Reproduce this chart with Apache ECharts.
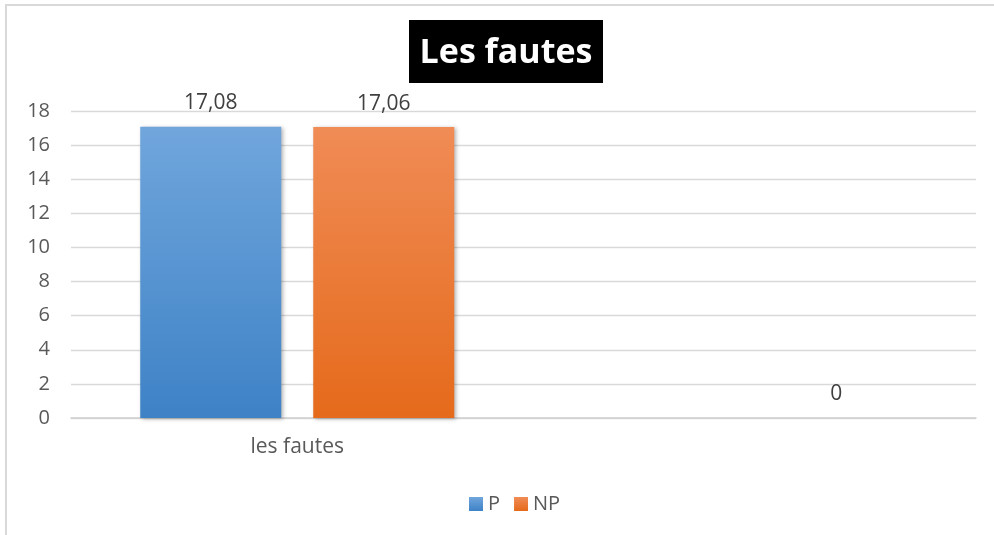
<!DOCTYPE html>
<html>
<head>
<meta charset="utf-8">
<script src="https://cdn.jsdelivr.net/npm/echarts@6/dist/echarts.min.js"></script>
<style>html,body{margin:0;padding:0;background:#fff;}#c{width:994px;height:535px;}</style>
</head>
<body>
<div id="c"></div>
<script>
var categories = ["les fautes", ""];
var seriesNames = ["P", "NP"];
var valuesP = [17.08, null];
var valuesNP = [17.06, 0];
var yTicks = [0, 2, 4, 6, 8, 10, 12, 14, 16, 18];

var chart = echarts.init(document.getElementById('c'), null, {renderer: 'canvas'});
function grad(top, bottom) {
  return new echarts.graphic.LinearGradient(0, 0, 0, 1, [{offset: 0, color: top}, {offset: 1, color: bottom}]);
}
var labelStyle = {show: true, position: 'top', distance: 13, fontFamily: 'Open Sans', fontSize: 21, color: '#404040', formatter: function(p){ if (p.value == null) return ''; return p.value === 0 ? '0' : p.value.toFixed(2).replace('.', ','); }};
var option = {
  backgroundColor: '#fff',
  animation: false,
  graphic: [
    {type: 'rect', shape: {x: 6, y: 5, width: 1000, height: 540}, style: {fill: 'none', stroke: '#d9d9d9', lineWidth: 2}},
    {type: 'rect', shape: {x: 409, y: 20, width: 194, height: 63}, style: {fill: '#000'}},
    {type: 'text', x: 506, y: 53, style: {text: 'Les fautes', fill: '#fff', font: 'bold 34px "Open Sans"', textAlign: 'center', textVerticalAlign: 'middle'}}
  ],
  grid: {left: 71, right: 18, top: 111, bottom: 117},
  legend: {
    data: seriesNames, top: 489, left: 464, icon: 'rect', itemWidth: 14, itemHeight: 14, itemGap: 14,
    textStyle: {fontFamily: 'Open Sans', fontSize: 20, color: '#595959', padding: [0, 0, 0, 0]}
  },
  xAxis: {
    type: 'category', data: categories,
    axisLine: {lineStyle: {color: '#d0d0d0', width: 1.5}},
    axisTick: {show: false},
    axisLabel: {margin: 19, fontFamily: 'Open Sans', fontSize: 21, color: '#595959'}
  },
  yAxis: {
    type: 'value', min: yTicks[0], max: yTicks[yTicks.length - 1], interval: 2,
    axisLine: {show: false}, axisTick: {show: false},
    axisLabel: {margin: 21, fontFamily: 'Open Sans', fontSize: 20, color: '#595959'},
    splitLine: {lineStyle: {color: '#d9d9d9', width: 1.3}}
  },
  series: [
    {name: seriesNames[0], type: 'bar', data: valuesP, barWidth: 141, barGap: '22.7%',
     itemStyle: {color: grad('#70a6dc', '#3e82c6'), shadowBlur: 4, shadowColor: 'rgba(0,0,0,0.3)', shadowOffsetX: 2, shadowOffsetY: 1},
     label: labelStyle},
    {name: seriesNames[1], type: 'bar', data: valuesNP, barWidth: 141,
     itemStyle: {color: grad('#f08c56', '#e56a1b'), shadowBlur: 4, shadowColor: 'rgba(0,0,0,0.3)', shadowOffsetX: 2, shadowOffsetY: 1},
     label: labelStyle}
  ]
};
chart.setOption(option);
</script>
</body>
</html>
